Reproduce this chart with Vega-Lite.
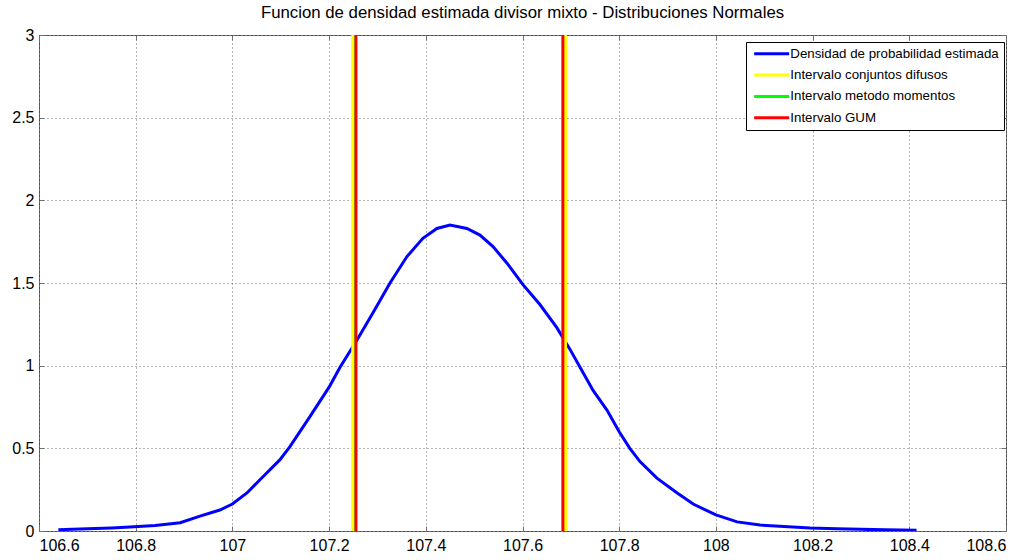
{
  "$schema": "https://vega.github.io/schema/vega-lite/v6.json",
  "autosize": {"type": "none"},
  "width": 967,
  "height": 496,
  "padding": {"left": 39, "top": 35, "right": 28, "bottom": 29},
  "background": "white",
  "title": {
    "text": "Funcion de densidad estimada divisor mixto - Distribuciones Normales",
    "font": "Liberation Sans",
    "fontSize": 16.8,
    "fontWeight": "normal",
    "color": "black",
    "offset": 5,
    "anchor": "middle"
  },
  "config": {
    "view": {"stroke": "#707070", "strokeWidth": 1},
    "axis": {
      "labelFont": "Liberation Sans",
      "labelFontSize": 16,
      "labelColor": "black",
      "domain": false,
      "tickColor": "#707070",
      "tickSize": -5,
      "gridColor": "#000000",
      "gridDash": [1, 3],
      "gridOpacity": 0.6,
      "title": null
    },
    "legend": {
      "title": null,
      "orient": "none",
      "legendX": 707,
      "legendY": 7,
      "fillColor": "white",
      "strokeColor": "black",
      "padding": 5,
      "symbolType": "M-1,0H9",
      "symbolSize": 49,
      "symbolStrokeWidth": 3,
      "labelFont": "Liberation Sans",
      "labelFontSize": 13.3,
      "labelColor": "black",
      "labelOffset": 26,
      "labelLimit": 400,
      "rowPadding": 7.4
    }
  },
  "datasets": {
    "curve": [
      {"x": 106.64, "y": 0.008, "series": "Densidad de probabilidad estimada"},
      {"x": 106.7, "y": 0.013, "series": "Densidad de probabilidad estimada"},
      {"x": 106.75, "y": 0.018, "series": "Densidad de probabilidad estimada"},
      {"x": 106.788, "y": 0.024, "series": "Densidad de probabilidad estimada"},
      {"x": 106.84, "y": 0.033, "series": "Densidad de probabilidad estimada"},
      {"x": 106.892, "y": 0.05, "series": "Densidad de probabilidad estimada"},
      {"x": 106.933, "y": 0.09, "series": "Densidad de probabilidad estimada"},
      {"x": 106.974, "y": 0.127, "series": "Densidad de probabilidad estimada"},
      {"x": 107.0, "y": 0.163, "series": "Densidad de probabilidad estimada"},
      {"x": 107.03, "y": 0.23, "series": "Densidad de probabilidad estimada"},
      {"x": 107.057, "y": 0.31, "series": "Densidad de probabilidad estimada"},
      {"x": 107.098, "y": 0.43, "series": "Densidad de probabilidad estimada"},
      {"x": 107.119, "y": 0.51, "series": "Densidad de probabilidad estimada"},
      {"x": 107.16, "y": 0.69, "series": "Densidad de probabilidad estimada"},
      {"x": 107.2, "y": 0.87, "series": "Densidad de probabilidad estimada"},
      {"x": 107.2226, "y": 0.99, "series": "Densidad de probabilidad estimada"},
      {"x": 107.2577, "y": 1.155, "series": "Densidad de probabilidad estimada"},
      {"x": 107.2908, "y": 1.32, "series": "Densidad de probabilidad estimada"},
      {"x": 107.326, "y": 1.5, "series": "Densidad de probabilidad estimada"},
      {"x": 107.361, "y": 1.66, "series": "Densidad de probabilidad estimada"},
      {"x": 107.394, "y": 1.77, "series": "Densidad de probabilidad estimada"},
      {"x": 107.423, "y": 1.83, "series": "Densidad de probabilidad estimada"},
      {"x": 107.45, "y": 1.85, "series": "Densidad de probabilidad estimada"},
      {"x": 107.485, "y": 1.83, "series": "Densidad de probabilidad estimada"},
      {"x": 107.512, "y": 1.79, "series": "Densidad de probabilidad estimada"},
      {"x": 107.539, "y": 1.72, "series": "Densidad de probabilidad estimada"},
      {"x": 107.568, "y": 1.62, "series": "Densidad de probabilidad estimada"},
      {"x": 107.601, "y": 1.49, "series": "Densidad de probabilidad estimada"},
      {"x": 107.636, "y": 1.37, "series": "Densidad de probabilidad estimada"},
      {"x": 107.671, "y": 1.23, "series": "Densidad de probabilidad estimada"},
      {"x": 107.698, "y": 1.1, "series": "Densidad de probabilidad estimada"},
      {"x": 107.719, "y": 0.99, "series": "Densidad de probabilidad estimada"},
      {"x": 107.746, "y": 0.85, "series": "Densidad de probabilidad estimada"},
      {"x": 107.775, "y": 0.73, "series": "Densidad de probabilidad estimada"},
      {"x": 107.8, "y": 0.6, "series": "Densidad de probabilidad estimada"},
      {"x": 107.822, "y": 0.5, "series": "Densidad de probabilidad estimada"},
      {"x": 107.843, "y": 0.42, "series": "Densidad de probabilidad estimada"},
      {"x": 107.878, "y": 0.32, "series": "Densidad de probabilidad estimada"},
      {"x": 107.92, "y": 0.23, "series": "Densidad de probabilidad estimada"},
      {"x": 107.953, "y": 0.163, "series": "Densidad de probabilidad estimada"},
      {"x": 108.0, "y": 0.097, "series": "Densidad de probabilidad estimada"},
      {"x": 108.044, "y": 0.055, "series": "Densidad de probabilidad estimada"},
      {"x": 108.091, "y": 0.036, "series": "Densidad de probabilidad estimada"},
      {"x": 108.159, "y": 0.024, "series": "Densidad de probabilidad estimada"},
      {"x": 108.195, "y": 0.018, "series": "Densidad de probabilidad estimada"},
      {"x": 108.25, "y": 0.013, "series": "Densidad de probabilidad estimada"},
      {"x": 108.3, "y": 0.01, "series": "Densidad de probabilidad estimada"},
      {"x": 108.35, "y": 0.007, "series": "Densidad de probabilidad estimada"},
      {"x": 108.415, "y": 0.005, "series": "Densidad de probabilidad estimada"}
    ],
    "intervals": [
      {"x": 107.2515, "series": "Intervalo metodo momentos"},
      {"x": 107.6865, "series": "Intervalo metodo momentos"},
      {"x": 107.249, "series": "Intervalo conjuntos difusos"},
      {"x": 107.689, "series": "Intervalo conjuntos difusos"},
      {"x": 107.2555, "series": "Intervalo GUM"},
      {"x": 107.6835, "series": "Intervalo GUM"}
    ]
  },
  "layer": [
    {
      "data": {"name": "curve"},
      "mark": {"type": "line", "strokeWidth": 3, "clip": true},
      "encoding": {
        "x": {
          "field": "x",
          "type": "quantitative",
          "scale": {"domain": [106.6, 108.6], "nice": false, "zero": false},
          "axis": {
            "values": [106.6, 106.8, 107, 107.2, 107.4, 107.6, 107.8, 108, 108.2, 108.4, 108.6],
            "format": "~g",
            "labelPadding": 11
          }
        },
        "y": {
          "field": "y",
          "type": "quantitative",
          "scale": {"domain": [0, 3], "nice": false},
          "axis": {
            "values": [0, 0.5, 1, 1.5, 2, 2.5, 3],
            "format": "~g",
            "labelPadding": 10
          }
        },
        "color": {
          "field": "series",
          "type": "nominal",
          "scale": {
            "domain": ["Densidad de probabilidad estimada", "Intervalo conjuntos difusos", "Intervalo metodo momentos", "Intervalo GUM"],
            "range": ["#0000ff", "#ffff00", "#00ff00", "#ff0000"]
          },
          "legend": {}
        }
      }
    },
    {
      "data": {"name": "intervals"},
      "mark": {"type": "rule", "strokeWidth": 3},
      "encoding": {
        "x": {
          "field": "x",
          "type": "quantitative",
          "axis": {
            "orient": "top",
            "labels": false,
            "grid": false,
            "values": [106.6, 106.8, 107, 107.2, 107.4, 107.6, 107.8, 108, 108.2, 108.4, 108.6]
          }
        },
        "y": {
          "datum": 0,
          "type": "quantitative",
          "axis": {
            "orient": "right",
            "labels": false,
            "grid": false,
            "values": [0, 0.5, 1, 1.5, 2, 2.5, 3]
          }
        },
        "y2": {"datum": 3},
        "color": {"field": "series", "type": "nominal"}
      }
    }
  ],
  "resolve": {"axis": {"x": "independent", "y": "independent"}}
}
